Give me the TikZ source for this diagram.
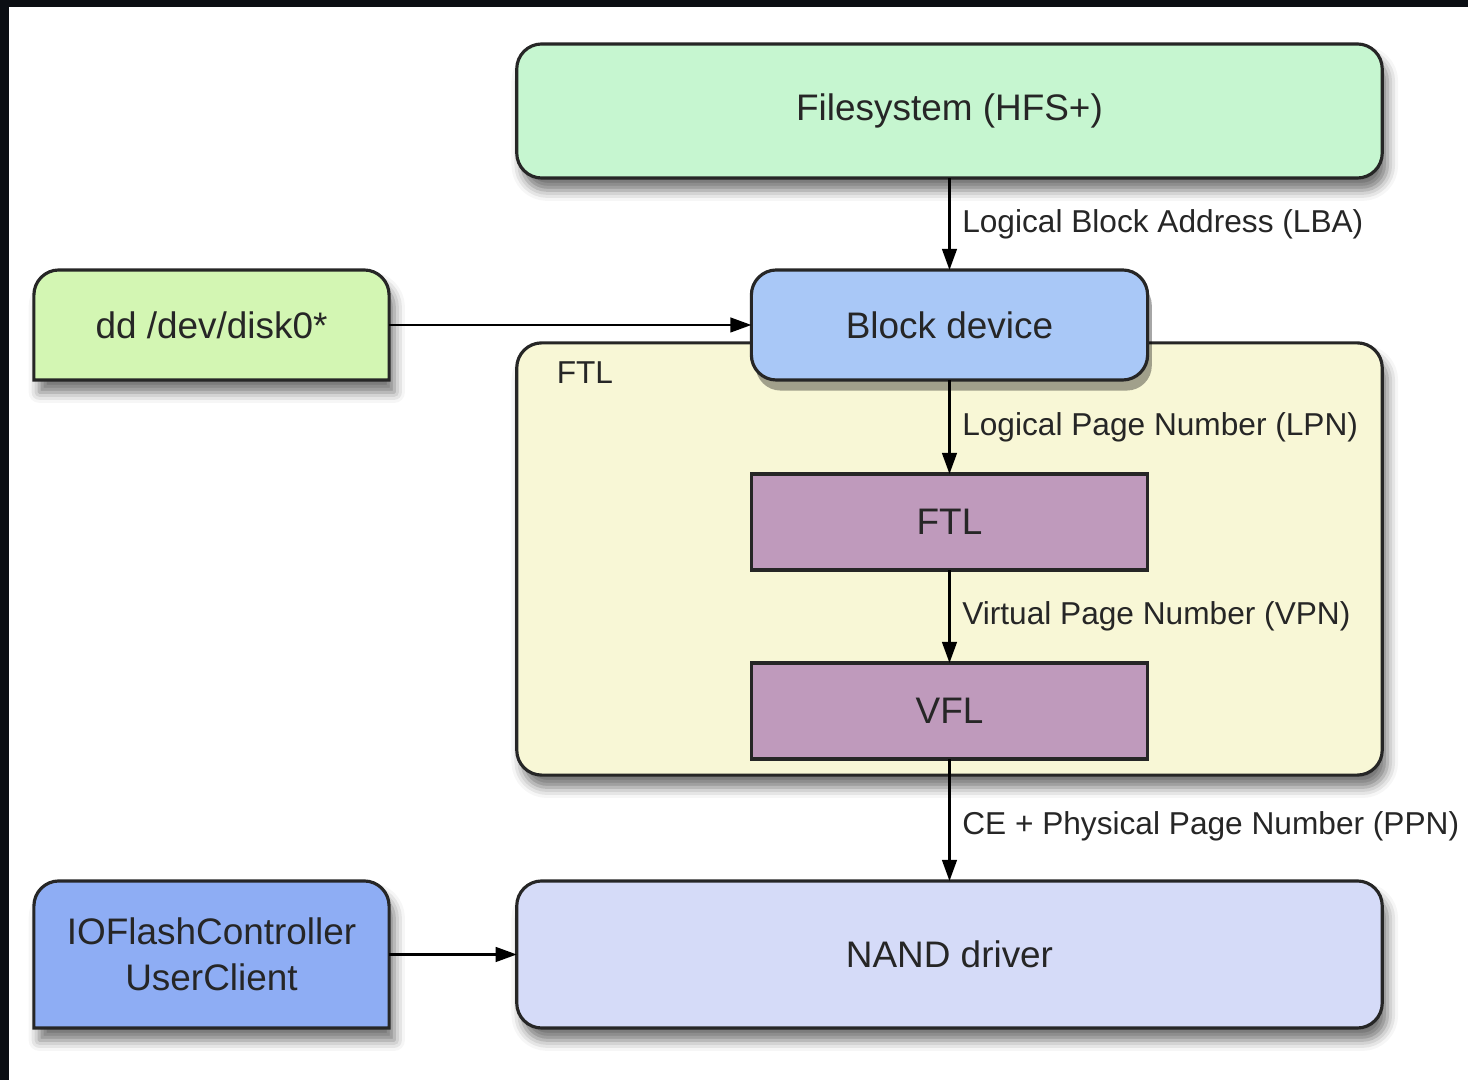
\documentclass[tikz,border=0pt]{standalone}
\usepackage{fontspec}
\setmainfont{Liberation Sans}
\usepackage{tikz}
\usetikzlibrary{arrows.meta, shadows, shadows.blur, backgrounds}

\definecolor{fsgreen}{HTML}{C6F6D0}
\definecolor{ddgreen}{HTML}{D3F6B3}
\definecolor{blkblue}{HTML}{A9C8F7}
\definecolor{ftlyellow}{HTML}{F8F7D6}
\definecolor{ftlpurple}{HTML}{BF9ABC}
\definecolor{nandblue}{HTML}{D5DBF8}
\definecolor{iocblue}{HTML}{8EADF4}
\definecolor{frame}{HTML}{0B0E13}

\begin{document}
\begin{tikzpicture}[
    x=0.01cm, y=-0.01cm,
    >={Triangle[length=6pt,width=4.2pt]},
    line width=0.6pt,
    shade/.style={blur shadow={shadow xshift=1.5pt, shadow yshift=-3.5pt,
        shadow blur radius=3pt, shadow opacity=55}},
    flatshade/.style={drop shadow={shadow xshift=1.2pt, shadow yshift=-3pt,
        opacity=0.35, fill=black}},
    outline/.style={draw=black!85, line width=0.9pt},
    boxtext/.style={font=\fontsize{10.5}{13}\selectfont, align=center,
        text=black!85, outer sep=0pt},
    rbox/.style={outline, boxtext, rounded corners=0.25cm,
        minimum height=#1},
    flat/.style={outline, boxtext, minimum width=3.96cm,
        minimum height=0.96cm},
    lbl/.style={font=\fontsize{9}{11}\selectfont, text=black!85}
]
\useasboundingbox (0,0) rectangle (1468,1080);

%-------------------------
% Dark frame
%-------------------------
\fill[frame] (0,0) rectangle (9,1080);
\fill[frame] (0,0) rectangle (1468,7);

%-------------------------
% Main stack
%-------------------------
\node[rbox=1.34cm, shade, minimum width=8.65cm, fill=fsgreen] (fs)
    at (949.5,111) {Filesystem (HFS+)};

% FTL area
\node[rbox=4.32cm, shade, minimum width=8.65cm, fill=ftlyellow] (ftlarea)
    at (949.5,559) {};
\node[lbl, anchor=west] (ftlname) at (544,373) {FTL};

\node[rbox=1.10cm, flatshade, minimum width=3.96cm, fill=blkblue] (blk)
    at (949.5,325) {Block device};
\node[flat, fill=ftlpurple] (ftl) at (949.5,522) {FTL};
\node[flat, fill=ftlpurple] (vfl) at (949.5,711) {VFL};

\node[rbox=1.47cm, shade, minimum width=8.65cm, fill=nandblue] (nand)
    at (949.5,954.5) {NAND driver};

%-------------------------
% Side entries
%-------------------------
\node[boxtext, minimum width=3.55cm, minimum height=1.10cm] (dd)
    at (211.5,325) {dd /dev/disk0*};
\node[boxtext, minimum width=3.55cm, minimum height=1.47cm] (ioc)
    at (211.5,954.5) {IOFlashController\\UserClient};

% Tab shapes (top corners rounded)
\begin{scope}[on background layer]
\draw[outline, shade, fill=ddgreen] (dd.south west)
    -- ([yshift=-0.25cm]dd.north west)
    arc[start angle=180, end angle=90, radius=0.25cm]
    -- ([xshift=-0.25cm]dd.north east)
    arc[start angle=90, end angle=0, radius=0.25cm]
    -- (dd.south east) -- cycle;
\draw[outline, shade, fill=iocblue] (ioc.south west)
    -- ([yshift=-0.25cm]ioc.north west)
    arc[start angle=180, end angle=90, radius=0.25cm]
    -- ([xshift=-0.25cm]ioc.north east)
    arc[start angle=90, end angle=0, radius=0.25cm]
    -- (ioc.south east) -- cycle;
\end{scope}

%-------------------------
% Connectors
%-------------------------
\draw[->] (fs) -- (blk)
    node[midway, right, lbl] {Logical Block Address (LBA)};
\draw[->] (blk) -- (ftl)
    node[midway, right, lbl] {Logical Page Number (LPN)};
\draw[->] (ftl) -- (vfl)
    node[midway, right, lbl] {Virtual Page Number (VPN)};
\draw[->] (vfl) -- (nand)
    node[pos=0.55, right, lbl] {CE + Physical Page Number (PPN)};

\draw[->] (dd) -- (blk);
\draw[->] (ioc) -- (nand);
\end{tikzpicture}
\end{document}
